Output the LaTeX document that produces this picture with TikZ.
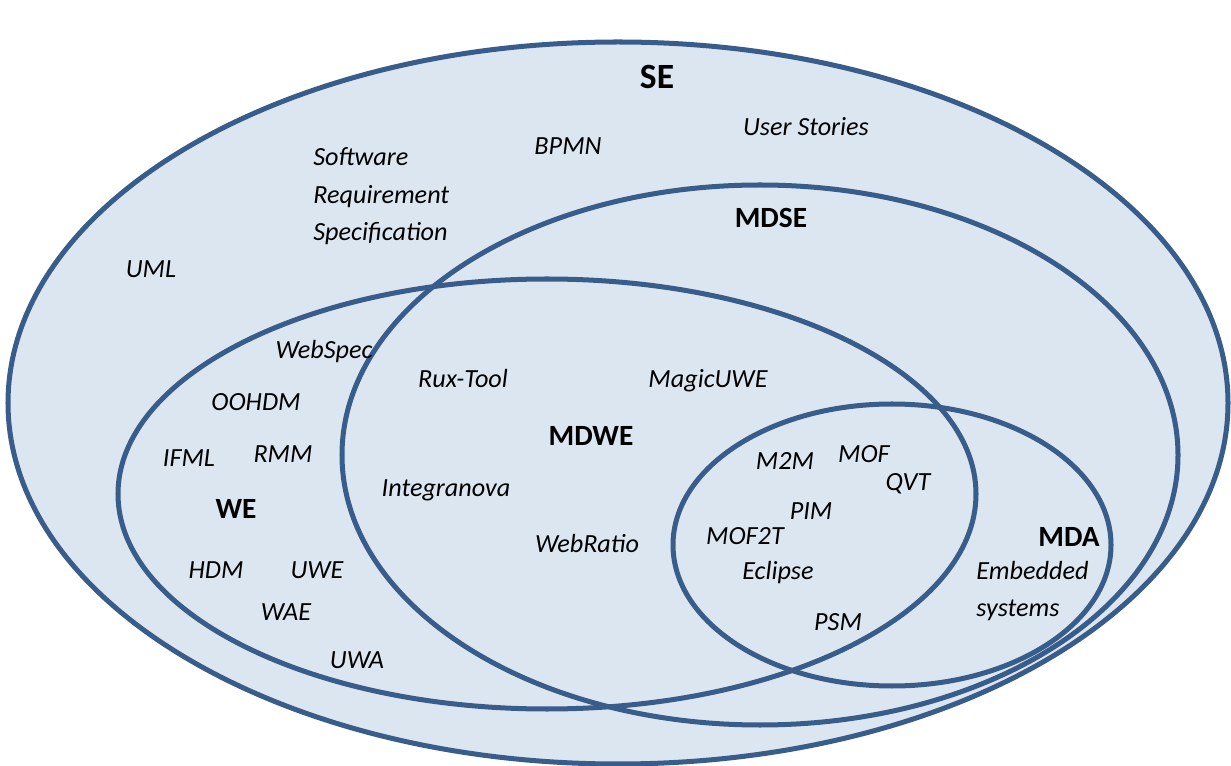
\documentclass[tikz,border=0pt]{standalone}
\usepackage{fontspec}
\setmainfont{Carlito}
\usetikzlibrary{positioning}
\definecolor{setfill}{RGB}{220,230,241}
\definecolor{setline}{RGB}{56,93,138}
\tikzstyle{venn}=[draw=setline,line width=2.85pt]
\tikzstyle{tech}=[font=\itshape\fontsize{14.9}{21.5}\selectfont,inner sep=0pt,anchor=base]
\tikzstyle{field}=[font=\bfseries\fontsize{16.7}{20}\selectfont,inner sep=0pt,anchor=base]

\begin{document}
\begin{tikzpicture}[x=0.02cm,y=-0.02cm]
    \useasboundingbox (0,0) rectangle (1231,766);

    % the sets
    \draw[venn,fill=setfill] (618,403) ellipse [x radius=610,y radius=361];
    \draw[venn] (760,455) ellipse [x radius=418,y radius=270];
    \draw[venn] (547,494) ellipse [x radius=429,y radius=215];
    \draw[venn] (892,545) ellipse [x radius=219,y radius=141];

    % set names
    \node[field,font=\bfseries\fontsize{20.2}{24}\selectfont] (se) at (657,89) {SE};
    \node[field] (mdse) at (771,228) {MDSE};
    \node[field] (mdwe) at (591,446) {MDWE};
    \node[field] (we) at (236,519) {WE};
    \node[field] (mda) at (1069,547) {MDA};

    % SE only
    \node[tech] (bpmn) at (568,155) {BPMN};
    \node[tech] (userstories) at (806,136) {User Stories};
    \node[tech,align=left,anchor=base west] (srs) at (313,241) {Software\\ Requirement\\ Specification};
    \node[tech] (uml) at (151,278) {UML};

    % WE
    \node[tech] (webspec) at (324,359) {WebSpec};
    \node[tech] (oohdm) at (256,411) {OOHDM};
    \node[tech] (ifml) at (189,467) {IFML};
    \node[tech] (rmm) at (283,463) {RMM};
    \node[tech] (hdm) at (216,579) {HDM};
    \node[tech] (uwe) at (317,579) {UWE};
    \node[tech] (wae) at (286,621) {WAE};
    \node[tech] (uwa) at (357,668) {UWA};

    % MDWE
    \node[tech] (ruxtool) at (463,388) {Rux-Tool};
    \node[tech] (magicuwe) at (708,388) {MagicUWE};
    \node[tech] (integranova) at (446,497) {Integranova};
    \node[tech] (webratio) at (587,553) {WebRatio};

    % MDA
    \node[tech] (m2m) at (785,470) {M2M};
    \node[tech] (mof) at (864,463) {MOF};
    \node[tech] (qvt) at (908,491) {QVT};
    \node[tech] (pim) at (811,520) {PIM};
    \node[tech] (mof2t) at (745,545) {MOF2T};
    \node[tech] (eclipse) at (778,580) {Eclipse};
    \node[tech] (psm) at (838,631) {PSM};
    \node[tech,align=left,anchor=base west] (embedded) at (976,617) {Embedded\\ systems};
\end{tikzpicture}
\end{document}
